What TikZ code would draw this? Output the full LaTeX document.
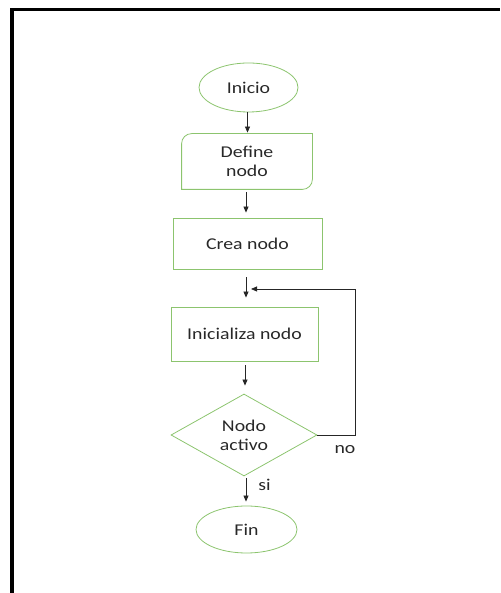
\documentclass[tikz,border=0pt]{standalone}
\usepackage{fontspec}
\newfontfamily\lblfont{Carlito}[FakeStretch=1.2]
\usetikzlibrary{arrows.meta,shapes.geometric}
\definecolor{boxgreen}{RGB}{140,196,110}
\definecolor{txt}{RGB}{40,40,40}
\tikzset{
  base/.style={draw=boxgreen, line width=0.8pt, text=txt,
    font=\lblfont\fontsize{16.5}{19}\selectfont, align=center, inner sep=0pt},
  term/.style={base, ellipse},
  procbox/.style={base, rectangle},
  decision/.style={base, diamond},
  flow/.style={draw=black!85, line width=0.8pt, -{Triangle[length=6pt,width=5pt]}},
  lbl/.style={text=txt, font=\lblfont\fontsize{16.5}{19}\selectfont, inner sep=0pt},
  frame/.style={draw=black, line width=3.2pt, line join=miter}
}
\begin{document}
\begin{tikzpicture}[x=1pt,y=1pt]
\useasboundingbox (0,0) rectangle (500,593);
% frame
\draw[frame] (12,0) -- (12,583.5) -- (500,583.5);
% nodes
\node[term, minimum width=99pt, minimum height=49pt] (ini) at (248.5,505.5) {Inicio};
\node[base, draw=none, rectangle, minimum width=130pt, minimum height=55pt] (def) at (247,431.5) {Define\\nodo};
\draw[boxgreen, line width=0.8pt] ([xshift=10pt]def.north west) -- (def.north east)
  -- ([yshift=10pt]def.south east) arc[start angle=0,end angle=-90,radius=10pt]
  -- (def.south west) -- ([yshift=-10pt]def.north west) arc[start angle=180,end angle=90,radius=10pt] -- cycle;
\node[procbox, minimum width=149pt, minimum height=51pt] (crea) at (247.5,349.5) {Crea nodo};
\node[procbox, minimum width=147pt, minimum height=54pt] (inz) at (244.5,259) {Inicializa nodo};
\node[decision, minimum width=146pt, minimum height=82pt] (dia) at (244,158) {Nodo\\activo};
\node[term, minimum width=101pt, minimum height=47pt] (fin) at (246.5,63.5) {Fin};
\coordinate (loopend) at (251,304);
% connectors
\draw[flow] ([xshift=-1pt]ini.south) -- ([xshift=-1pt,yshift=1pt]ini.south |- def.north);
\draw[flow] ([xshift=-1pt,yshift=-3pt]def.south) -- ([xshift=-1pt,yshift=5pt]def.south |- crea.north);
\draw[flow] ([xshift=-1.5pt,yshift=-8pt]crea.south) -- ([xshift=-1.5pt,yshift=9pt]crea.south |- inz.north);
\draw[flow] ([xshift=0.5pt,yshift=-4pt]inz.south) -- ([xshift=0.5pt,yshift=8pt]inz.south |- dia.north);
\draw[flow] ([xshift=2pt,yshift=-2pt]dia.south) -- ([xshift=2pt,yshift=4pt]dia.south |- fin.north);
\draw[flow] (dia.east) -- (355,158) |- (loopend);
% labels
\node[lbl] (nolbl) at (345,143) {no};
\node[lbl] (silbl) at (264.5,108) {si};
\end{tikzpicture}
\end{document}
